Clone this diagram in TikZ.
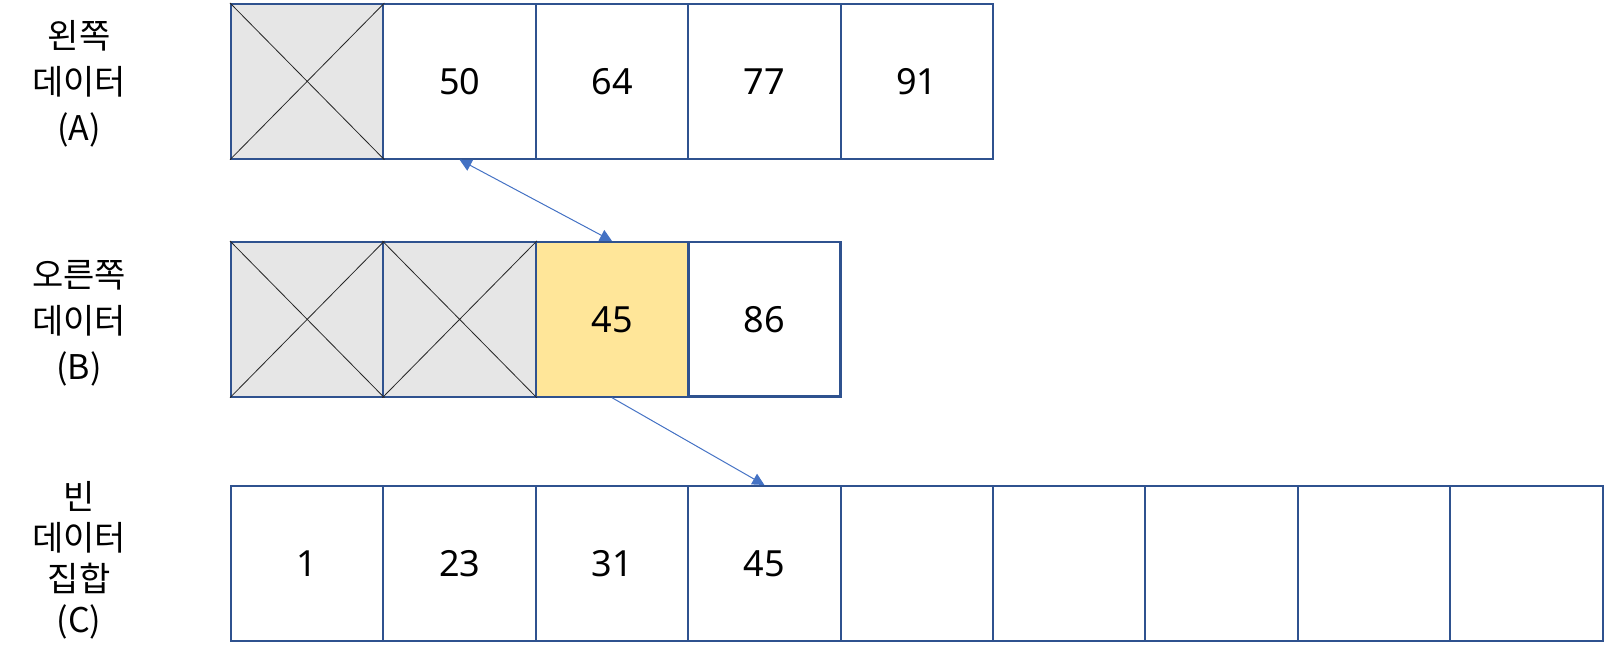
\documentclass[tikz,border=0pt]{standalone}
\usepackage{fontspec}
\setmainfont{Noto Sans}
\newfontfamily\krfont{Noto Sans CJK KR}
\usetikzlibrary{arrows.meta}
\definecolor{cellblue}{HTML}{2F528F}
\definecolor{xgray}{HTML}{E6E6E6}
\definecolor{hlyellow}{HTML}{FFE699}
\definecolor{arrowblue}{HTML}{4472C4}
\definecolor{crossdark}{HTML}{262626}
\begin{document}
\begin{tikzpicture}[x=1bp,y=-1bp,
  cell/.style={draw=cellblue,line width=2bp,fill=white,minimum width=152.4bp,
    minimum height=154.7bp,inner sep=0pt,font=\fontsize{36bp}{40bp}\selectfont},
  emptycell/.style={cell,fill=xgray},
  hlcell/.style={cell,fill=hlyellow},
  boldcell/.style={cell,line width=2.8bp},
  crossline/.style={draw=crossdark,line width=0.8bp},
  rowlabel/.style={align=center,inner sep=0pt,font=\krfont\fontsize{34bp}{46bp}\selectfont},
  link/.style={draw=arrowblue,line width=1bp},
  tip/.style={-{Triangle[length=12bp,width=12bp]}},
  bothtips/.style={{Triangle[length=12bp,width=12bp]}-{Triangle[length=12bp,width=12bp]}}]
\useasboundingbox (0,0) rectangle (1604,658);
% labels
\node[rowlabel] (la) at (79,84) {왼쪽\\데이터\\(A)};
\node[rowlabel] (lb) at (79,323) {오른쪽\\데이터\\(B)};
\node[rowlabel,font=\krfont\fontsize{34bp}{41bp}\selectfont] (lc) at (79,560) {빈\\데이터\\집합\\(C)};
% row A
\node[emptycell] (a1) at (307.2,81.35) {};
\node[cell] (a2) at (459.6,81.35) {50};
\node[cell] (a3) at (612.0,81.35) {64};
\node[cell] (a4) at (764.4,81.35) {77};
\node[cell] (a5) at (916.8,81.35) {91};
% row B
\node[emptycell] (b1) at (307.2,319.35) {};
\node[emptycell] (b2) at (459.6,319.35) {};
\node[hlcell] (b3) at (612.0,319.35) {45};
\node[boldcell] (b4) at (764.4,319.35) {86};
% row C
\node[cell] (c1) at (307.2,563.35) {1};
\node[cell] (c2) at (459.6,563.35) {23};
\node[cell] (c3) at (612.0,563.35) {31};
\node[cell] (c4) at (764.4,563.35) {45};
\node[cell] (c5) at (916.8,563.35) {};
\node[cell] (c6) at (1069.2,563.35) {};
\node[cell] (c7) at (1221.6,563.35) {};
\node[cell] (c8) at (1374.0,563.35) {};
\node[cell] (c9) at (1526.4,563.35) {};
% crosses
\foreach \n in {a1,b1,b2}{
  \draw[crossline] (\n.north west) -- (\n.south east) (\n.south west) -- (\n.north east);
}
% arrows
\draw[link,bothtips] (a2.south) -- (b3.north);
\draw[link,tip] (b3.south) -- (c4.north);
\end{tikzpicture}
\end{document}
